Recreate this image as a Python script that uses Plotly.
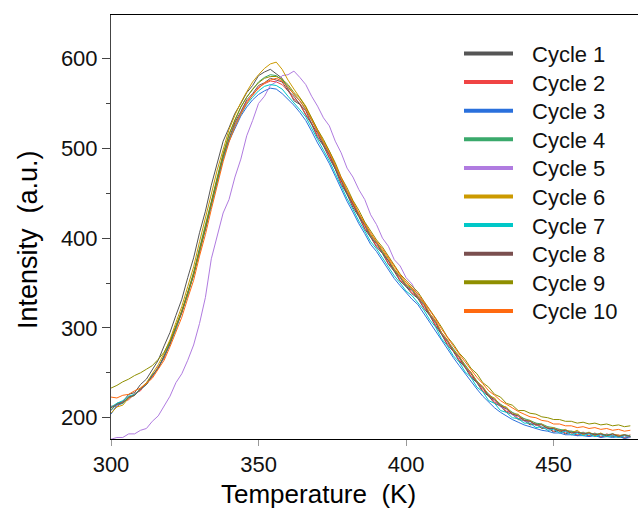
import plotly.graph_objects as go

# Temperature grid (K)
temperature = list(range(300, 478, 2))

cycle_names = ["Cycle 1", "Cycle 2", "Cycle 3", "Cycle 4", "Cycle 5",
               "Cycle 6", "Cycle 7", "Cycle 8", "Cycle 9", "Cycle 10"]
cycle_colors = ["#555555", "#f04444", "#2a70dc", "#3aa96b", "#b07be0",
                "#cc9a00", "#00c8c8", "#7a4f4f", "#8f8f00", "#ff6a10"]

cycle1 = [208,216,218,226,228,237,243,254,264,280, 295,314,332,356,378,406,430,459,483,508,
          523,539,550,562,570,581,585,588,583,578, 566,553,549,537,527,512,503,489,477,460,
          449,434,424,410,401,390,383,371,363,352, 346,338,333,322,314,302,293,281,274,263,
          256,245,239,229,224,216,213,206,204,198, 197,192,193,188,189,184,186,182,184,180,
          183,179,182,178,181,179,180,177,179]
cycle2 = [213,212,218,220,227,230,239,245,257,266, 284,298,319,336,361,383,412,436,463,489,
          509,527,539,552,559,568,572,575,574,571, 564,555,550,538,528,514,505,490,479,461,
          451,436,426,411,403,391,385,372,365,353, 348,339,335,323,316,303,295,282,276,264,
          258,246,241,230,226,217,215,207,206,199, 199,193,194,189,190,185,187,183,185,181,
          184,180,183,179,182,180,181,178,181]
cycle3 = [204,214,216,222,225,232,237,247,255,269, 282,301,317,339,359,387,410,437,463,488,
          508,523,536,546,554,560,564,567,566,561, 555,548,540,531,519,506,495,483,469,455,
          441,429,416,405,393,385,375,366,355,347, 339,332,326,316,307,297,286,276,267,258,
          249,240,232,224,217,211,206,202,198,195, 192,190,188,186,185,183,183,181,181,180,
          180,179,180,178,179,178,179,177,178]
cycle4 = [209,215,216,223,225,233,237,248,255,270, 284,302,319,340,362,389,414,441,468,494,
          516,532,546,557,566,574,579,582,581,576, 569,560,553,543,531,518,506,494,479,465,
          451,439,426,415,403,395,385,376,365,357, 348,343,335,327,316,307,295,286,276,268,
          258,250,241,234,226,221,215,211,206,203, 199,197,194,193,190,189,187,186,185,184,
          183,183,182,182,181,182,180,181,180]
cycle5 = [176,178,178,182,182,186,188,196,202,213, 224,239,249,264,281,305,334,377,403,428,
          443,468,488,514,531,550,558,570,574,581, 582,586,579,571,558,547,534,525,508,495,
          478,468,454,443,426,415,400,391,376,369, 356,349,336,329,316,308,294,287,274,268,
          256,250,239,234,224,220,212,210,203,202, 196,196,191,193,186,188,183,185,181,184,
          180,183,179,182,179,181,178,180,178]
cycle6 = [205,212,214,222,225,233,239,249,259,272, 287,306,324,346,368,396,421,449,476,500,
          521,537,551,563,574,582,589,594,596,588, 576,566,557,547,533,520,508,497,481,467,
          453,441,427,417,404,396,386,377,366,358, 349,344,335,328,316,308,295,287,275,269,
          257,251,240,235,224,222,213,212,204,204, 197,197,192,193,188,189,185,187,183,186,
          181,184,180,183,179,182,180,181,179]
cycle7 = [212,216,219,224,226,232,237,247,255,268, 282,299,317,337,359,385,410,437,463,488,
          509,525,538,549,557,564,569,571,570,566, 558,551,543,535,522,510,498,486,472,458,
          444,432,419,408,396,388,378,369,358,350, 341,336,328,320,309,301,288,280,269,262,
          251,245,234,229,219,216,208,206,200,199, 194,194,189,190,186,187,183,185,181,183,
          180,182,179,181,179,180,178,180,179]
cycle8 = [211,215,217,223,225,232,237,247,255,269, 282,301,317,339,359,387,410,439,464,491,
          511,529,541,554,561,570,573,578,576,574, 564,558,549,542,527,517,503,493,477,464,
          449,438,424,414,401,394,383,375,363,356, 346,342,333,326,314,306,293,285,274,267,
          256,249,239,233,224,220,213,210,204,202, 197,196,192,192,188,188,185,186,183,184,
          182,183,181,182,180,182,179,181,179]
cycle9 = [233,236,240,243,247,250,254,258,265,273, 285,301,319,339,360,386,412,440,467,493,
          515,532,546,557,566,573,578,580,580,577, 571,562,556,546,534,521,510,497,484,468,
          456,442,431,418,408,398,390,380,370,360, 353,346,340,330,321,311,301,290,282,272,
          265,255,249,239,234,226,223,216,214,208, 208,205,204,201,200,198,198,196,196,194,
          195,193,194,192,193,191,192,190,191]
cycle10 = [223,222,225,226,230,233,238,244,254,264, 279,295,312,333,353,380,404,432,459,485,
           507,524,538,550,560,567,573,576,578,575, 568,560,553,544,531,519,507,495,481,466,
           453,440,428,416,406,396,388,378,368,359, 351,345,338,329,320,310,299,289,280,271,
           262,254,245,238,230,225,219,215,211,207, 204,201,200,197,196,193,193,191,191,189,
           190,188,189,187,188,186,187,185,186]

series = [cycle1, cycle2, cycle3, cycle4, cycle5, cycle6, cycle7, cycle8, cycle9, cycle10]

x_ticks = [300, 350, 400, 450]
y_ticks = [200, 300, 400, 500, 600]
y_minor = [250, 350, 450, 550]

W, H = 638, 513
ML, MR, MT, MB = 111, 0, 15, 74
PW, PH = W - ML - MR, H - MT - MB

def px_x(p):
    return (p - ML) / PW

def px_y(p):
    return (H - MB - p) / PH

FONT = "Liberation Sans, Arial, sans-serif"

fig = go.Figure()
for name, color, vals in zip(cycle_names, cycle_colors, series):
    fig.add_trace(go.Scatter(x=temperature, y=vals, mode="lines", name=name,
                             line=dict(color=color, width=1), showlegend=False))

shapes = []
annotations = []
for i, (name, color) in enumerate(zip(cycle_names, cycle_colors)):
    yc = 53.5 + 28.6 * i
    shapes.append(dict(type="line", xref="paper", yref="paper",
                       x0=px_x(464), x1=px_x(513), y0=px_y(yc), y1=px_y(yc),
                       line=dict(color=color, width=4)))
    annotations.append(dict(xref="paper", yref="paper", x=px_x(530), y=px_y(yc + 1),
                            text=name, showarrow=False, xanchor="left", yanchor="middle",
                            font=dict(family=FONT, size=22, color="#111111")))

annotations.append(dict(xref="paper", yref="paper", x=px_x(318), y=px_y(494),
                        text="Temperature\u00a0 (K)", showarrow=False,
                        xanchor="center", yanchor="middle",
                        font=dict(family=FONT, size=26, color="#000000")))
annotations.append(dict(xref="paper", yref="paper", x=px_x(28), y=px_y(240),
                        text="Intensity\u00a0 (a.u.)", showarrow=False, textangle=-90,
                        xanchor="center", yanchor="middle",
                        font=dict(family=FONT, size=27, color="#000000")))

fig.update_layout(
    width=W, height=H,
    margin=dict(l=ML, r=MR, t=MT, b=MB),
    paper_bgcolor="white", plot_bgcolor="white",
    showlegend=False,
    shapes=shapes,
    annotations=annotations,
    xaxis=dict(range=[300, 478.6], tickvals=x_ticks, ticktext=[str(v) for v in x_ticks],
               showline=True, linecolor="#000000", linewidth=1, mirror=True,
               ticks="outside", ticklen=6, tickcolor="#999999", tickwidth=1,
               showgrid=False, zeroline=False,
               tickfont=dict(family=FONT, size=22, color="#111111")),
    yaxis=dict(range=[176.3, 648.5], tickvals=y_ticks, ticktext=[str(v) for v in y_ticks],
               showline=True, linecolor="#444444", linewidth=1,
               ticks="outside", ticklen=8, tickcolor="#444444", tickwidth=1,
               minor=dict(tickvals=y_minor, ticks="outside", ticklen=4,
                          tickcolor="#444444"),
               showgrid=False, zeroline=False,
               tickfont=dict(family=FONT, size=22, color="#111111")),
)

fig.write_html("out.html")
